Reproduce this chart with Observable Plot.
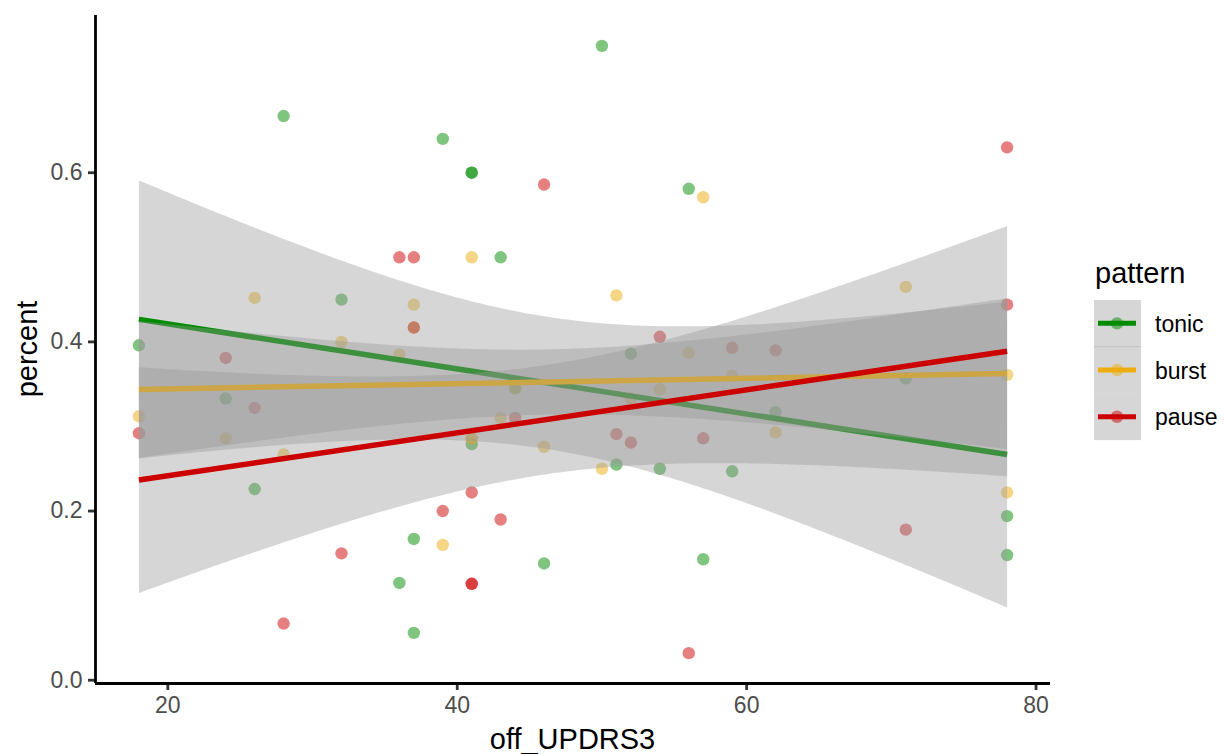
<!DOCTYPE html>
<html><head><meta charset="utf-8">
<script src="https://cdn.jsdelivr.net/npm/d3@7"></script>
<script src="https://cdn.jsdelivr.net/npm/@observablehq/plot@0.6"></script>
<style>body{margin:0;background:#fff;}</style>
</head><body><div id="chart"></div>
<script>
const patterns = ["tonic", "burst", "pause"];
const colors = ["#008B00", "#EEAD0E", "#CD0000"];
const offUPDRS3 = [18,24,26,28,32,36,37,37,39,41,41,41,43,44,46,50,51,52,54,56,57,59,62,71,78,78];
const tonic = [0.396,0.333,0.226,0.667,0.45,0.115,0.167,0.056,0.64,0.6,0.6,0.279,0.5,0.345,0.138,0.75,0.255,0.386,0.25,0.581,0.143,0.247,0.317,0.357,0.148,0.194];
const burst = [0.312,0.286,0.452,0.267,0.40,0.385,0.417,0.444,0.16,0.286,0.286,0.5,0.31,0.345,0.276,0.25,0.455,0.333,0.344,0.387,0.571,0.36,0.293,0.465,0.222,0.361];
const pause = [0.292,0.381,0.322,0.067,0.15,0.50,0.417,0.50,0.20,0.114,0.114,0.222,0.19,0.31,0.586,null,0.291,0.281,0.406,0.032,0.286,0.393,0.39,0.178,0.63,0.444];
const xTicks = [20, 40, 60, 80];
const yTicks = [0, 0.2, 0.4, 0.6];

const rows = [];
[tonic, burst, pause].forEach((vals, k) => vals.forEach((v, i) => {
  if (v != null) rows.push({x: offUPDRS3[i], y: v, pattern: patterns[k]});
}));

const xDomain = [15, 81];
const yDomain = [-0.0039, 0.7859];
const font = "'Liberation Sans', Arimo, Arial, Helvetica, sans-serif";

const plot = Plot.plot({
  width: 1224, height: 754,
  marginLeft: 95, marginRight: 174, marginTop: 15, marginBottom: 71,
  style: {fontFamily: font, background: "#fff"},
  x: {domain: xDomain},
  y: {domain: yDomain},
  color: {domain: patterns, range: colors},
  marks: [
    Plot.dot(rows, {x: "x", y: "y", fill: "pattern", fillOpacity: 0.5, r: 6.2, stroke: "none"}),
    Plot.linearRegressionY(rows, {x: "x", y: "y", stroke: "pattern", fill: "#999999", fillOpacity: 0.4,
      strokeWidth: 5.5, strokeLinecap: "butt", ci: 0.95}),
    Plot.axisX({ticks: xTicks, tickSize: 7, tickPadding: 6, tickFormat: d => String(d), fontSize: 23,
      fill: "#4D4D4D", stroke: "#333333", strokeWidth: 2.8, label: null}),
    Plot.axisY({ticks: yTicks, tickSize: 7, tickPadding: 6, tickFormat: d => d.toFixed(1), fontSize: 23,
      fill: "#4D4D4D", stroke: "#333333", strokeWidth: 2.8, label: null}),
    Plot.ruleY([yDomain[0]], {stroke: "#000", strokeWidth: 2.8}),
    Plot.ruleX([xDomain[0]], {stroke: "#000", strokeWidth: 2.8})
  ]
});

const svg = d3.select(plot);
svg.append("text").attr("x", (95 + 1050) / 2).attr("y", 749).attr("text-anchor", "middle")
  .attr("font-size", 29).attr("fill", "#000").text("off_UPDRS3");
svg.append("text").attr("transform", "translate(37,349) rotate(-90)").attr("text-anchor", "middle")
  .attr("font-size", 29).attr("fill", "#000").text("percent");

const lg = svg.append("g").attr("text-anchor", "start");
lg.append("text").attr("x", 1095).attr("y", 283).attr("text-anchor", "start").attr("font-size", 29)
  .attr("fill", "#000").text("pattern");
const keyH = 46.7;
patterns.forEach((p, k) => {
  const y0 = 300 + k * keyH, yc = y0 + keyH / 2;
  lg.append("rect").attr("x", 1094).attr("y", y0).attr("width", 47).attr("height", keyH)
    .attr("fill", "#999999").attr("fill-opacity", 0.4);
  lg.append("line").attr("x1", 1098).attr("x2", 1136).attr("y1", yc).attr("y2", yc)
    .attr("stroke", colors[k]).attr("stroke-width", 5);
  lg.append("circle").attr("cx", 1117).attr("cy", yc).attr("r", 6.2)
    .attr("fill", colors[k]).attr("fill-opacity", 0.5);
  lg.append("text").attr("x", 1155).attr("y", yc).attr("dy", "0.38em").attr("text-anchor", "start")
    .attr("font-size", 23).attr("fill", "#000").text(p);
});
lg.append("line").attr("x1", 1094).attr("x2", 1141).attr("y1", 300 + keyH).attr("y2", 300 + keyH)
  .attr("stroke", "#c2c2c2").attr("stroke-width", 1);

document.getElementById("chart").appendChild(plot);
</script>
</body></html>
